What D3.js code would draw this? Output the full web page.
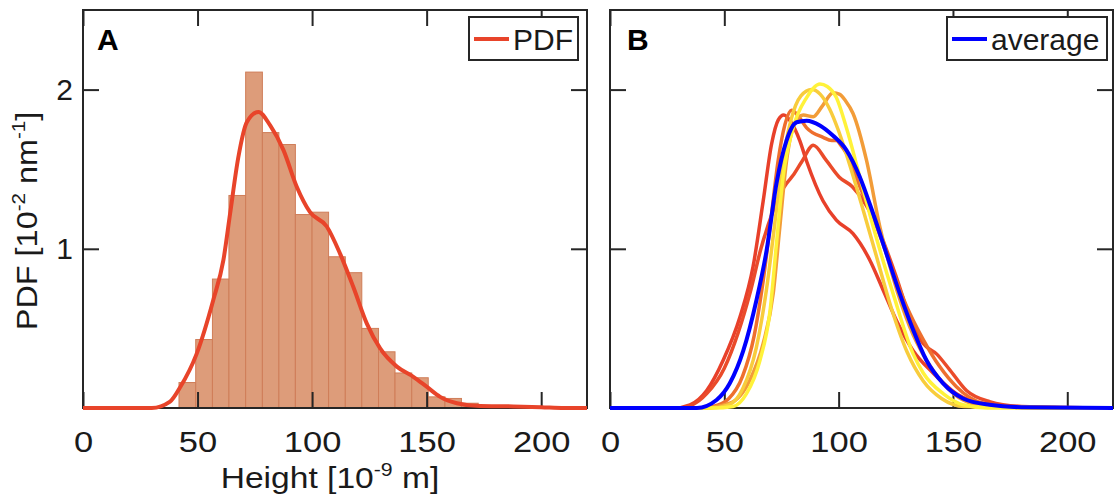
<!DOCTYPE html>
<html>
<head>
<meta charset="utf-8">
<script src="https://cdn.jsdelivr.net/npm/d3@7"></script>
<style>
body { margin: 0; background: #fff; }
</style>
</head>
<body>
<div id="chart"></div>
<script>
var W = 1116, H = 496;
var font = "'Liberation Sans', Arial, Helvetica, sans-serif";
var axisColor = "#262626";

var xTicks = [0, 50, 100, 150, 200];
var yTicks = [1, 2];

// panel A: histogram of heights (bin edges in nm, PDF in 1e-2 nm^-1)
var binEdges = [41.9, 49.2, 56.5, 63.7, 71.0, 78.3, 85.5, 92.7, 100.0, 107.2, 114.5, 121.7, 129.0, 136.2, 143.5, 150.7, 158.0, 165.2, 172.5];
var binHeights = [0.16, 0.43, 0.81, 1.335, 2.11, 1.73, 1.655, 1.215, 1.23, 0.95, 0.85, 0.50, 0.353, 0.22, 0.19, 0.07, 0.06, 0.03];

var pdfA = [[0, 0], [30, 0], [38, 0.04], [42.4, 0.13], [49.6, 0.34], [56.9, 0.68], [61.3, 0.93], [64.2, 1.22],
	[67.8, 1.575], [71.5, 1.795], [76.6, 1.86], [81.7, 1.775], [87.5, 1.62], [93.3, 1.39], [99.1, 1.23],
	[106.4, 1.14], [112.2, 0.97], [118, 0.76], [123.9, 0.53], [129.7, 0.374], [137, 0.26], [144.2, 0.196],
	[150, 0.134], [155.9, 0.07], [163.2, 0.03], [173.4, 0.012], [187.8, 0.01], [200, 0.005], [210, 0], [220, 0]];

// panel B: individual PDFs
var redA = [[0, 0], [28, 0], [35, 0.02], [42.3, 0.11], [49.5, 0.30], [56.8, 0.57], [62.6, 0.89], [67, 1.30],
	[70.7, 1.66], [73.6, 1.81], [76, 1.84], [79, 1.80], [83, 1.68], [86, 1.55], [93.2, 1.30], [99, 1.18],
	[106.3, 1.095], [113.6, 0.93], [119.5, 0.74], [125.3, 0.55], [132.6, 0.36], [141.3, 0.22], [151.5, 0.09],
	[166, 0.02], [185, 0], [220, 0]];
var redB = [[0, 0], [30, 0], [36, 0.02], [42.3, 0.09], [50, 0.25], [56, 0.47], [61.2, 0.72], [66, 1.0],
	[71.4, 1.24], [75, 1.36], [77.2, 1.41], [80, 1.46], [84, 1.55], [88.9, 1.65], [94.6, 1.555], [100.3, 1.45],
	[106, 1.39], [111.8, 1.28], [117.6, 1.115], [125.3, 0.82], [131.1, 0.57], [137, 0.405], [142.8, 0.34],
	[148.6, 0.24], [155.9, 0.11], [166, 0.04], [180, 0.01], [220, 0]];
var orangeA = [[0, 0], [38, 0], [45, 0.01], [52, 0.06], [58, 0.2], [63, 0.45], [67, 0.8], [70.5, 1.2],
	[73.5, 1.55], [76.5, 1.78], [79.4, 1.87], [82, 1.84], [86, 1.76], [93.2, 1.70], [97, 1.68], [99, 1.68],
	[101, 1.65], [103.4, 1.60], [109.3, 1.39], [116.6, 1.14], [122.4, 0.91], [129.7, 0.64], [137, 0.43],
	[144.2, 0.26], [151.5, 0.134], [163.2, 0.03], [180, 0.005], [220, 0]];
var orangeB = [[0, 0], [40, 0], [52.4, 0.03], [61.2, 0.176], [67, 0.405], [71.4, 0.72], [74.3, 1.14],
	[77.2, 1.55], [80.1, 1.76], [84.5, 1.84], [88.9, 1.83], [93, 1.9], [97.6, 1.98], [100.5, 1.97],
	[103, 1.93], [106.3, 1.85], [112.2, 1.555], [118, 1.14], [123.8, 0.82], [131.1, 0.51], [138.4, 0.30],
	[145.7, 0.155], [154.4, 0.05], [165, 0.01], [220, 0]];
var goldC = [[0, 0], [44, 0], [52, 0.02], [58, 0.12], [64, 0.38], [68.5, 0.75], [72, 1.15], [75, 1.5],
	[79, 1.8], [83.5, 1.96], [88.2, 2.0], [92, 1.97], [96, 1.88], [100, 1.74], [105, 1.52], [110, 1.28],
	[116, 0.98], [123, 0.63], [130, 0.35], [137, 0.17], [145, 0.06], [155, 0.01], [220, 0]];
var yellowD = [[0, 0], [45, 0], [53.9, 0.01], [59.7, 0.09], [65.6, 0.30], [70, 0.61], [72.8, 1.03],
	[75.7, 1.45], [80.1, 1.76], [86, 1.95], [91.8, 2.035], [95, 2.02], [99, 1.95], [103.4, 1.76],
	[109.3, 1.45], [115.1, 1.14], [123.8, 0.72], [132.6, 0.34], [137, 0.22], [145.7, 0.09], [154.4, 0.02],
	[165, 0], [220, 0]];
var average = [[0, 0], [38, 0], [46.6, 0.05], [52.4, 0.155], [58.3, 0.36], [64.1, 0.68], [68.5, 0.99],
	[72.8, 1.41], [77.2, 1.68], [81.6, 1.795], [86, 1.805], [91.8, 1.775], [97.6, 1.71], [103.4, 1.62],
	[109.3, 1.45], [115.1, 1.22], [120.9, 0.97], [126.7, 0.72], [132.6, 0.49], [138.4, 0.30], [145.7, 0.155],
	[154.4, 0.06], [166, 0.02], [180, 0.005], [220, 0]];

var curvesB = [redA, redB, orangeA, orangeB, goldC, yellowD];
var curveColors = ["#e8402a", "#ea4b2a", "#ee6f2e", "#f29c38", "#f8cc3c", "#fff23a"];

var plotTop = 10, plotBottom = 408;
var y = d3.scaleLinear().domain([0, 2.5]).range([plotBottom, plotTop]);
var xA = d3.scaleLinear().domain([0, 220]).range([83, 587]);
var xB = d3.scaleLinear().domain([0, 220]).range([610, 1113]);

var svg = d3.select("#chart").append("svg")
	.attr("width", W)
	.attr("height", H)
	.style("font-family", font);

var line = (x) => d3.line()
	.x(d => x(d[0]))
	.y(d => y(d[1]))
	.curve(d3.curveMonotoneX);

function drawFrame(x, id) {
	var g = svg.append("g");
	var left = x.range()[0], right = x.range()[1];
	var tick = 16;

	g.append("g").attr("transform", "translate(0," + plotBottom + ")")
		.call(d3.axisBottom(x).tickValues(xTicks).tickSizeInner(-tick).tickSizeOuter(0).tickPadding(23))
		.call(a => a.select(".domain").remove())
		.call(a => a.selectAll("text").attr("transform", "scale(1.15,1)"));
	g.append("g").attr("transform", "translate(0," + plotTop + ")")
		.call(d3.axisTop(x).tickValues(xTicks).tickSizeInner(-tick).tickSizeOuter(0).tickFormat(""))
		.call(a => a.select(".domain").remove());
	g.append("g").attr("transform", "translate(" + left + ",0)")
		.call(d3.axisLeft(y).tickValues(yTicks).tickSizeInner(-tick).tickSizeOuter(0).tickFormat(id === "A" ? d3.format("d") : ""))
		.call(a => a.select(".domain").remove())
		.call(a => a.selectAll("text").attr("x", -10).attr("text-anchor", "end"));
	g.append("g").attr("transform", "translate(" + right + ",0)")
		.call(d3.axisRight(y).tickValues(yTicks).tickSizeInner(-tick).tickSizeOuter(0).tickFormat(""))
		.call(a => a.select(".domain").remove());

	g.selectAll(".tick line").attr("stroke", axisColor).attr("stroke-width", 2);
	g.selectAll(".tick text")
		.attr("fill", "#1a1a1a")
		.style("font-size", "30px")
		.style("font-family", font);

	g.append("rect")
		.attr("x", left).attr("y", plotTop)
		.attr("width", right - left).attr("height", plotBottom - plotTop)
		.attr("fill", "none")
		.attr("stroke", axisColor)
		.attr("stroke-width", 2);

	svg.append("clipPath").attr("id", "clip" + id)
		.append("rect")
		.attr("x", left).attr("y", plotTop)
		.attr("width", right - left).attr("height", plotBottom - plotTop + 3);
}

function drawLegend(x0, x1, label, color) {
	var g = svg.append("g");
	g.append("rect")
		.attr("x", x0).attr("y", 17)
		.attr("width", x1 - x0).attr("height", 43)
		.attr("fill", "#fff")
		.attr("stroke", axisColor)
		.attr("stroke-width", 2);
	g.append("line")
		.attr("x1", x0 + 5).attr("x2", x0 + 40)
		.attr("y1", 39).attr("y2", 39)
		.attr("stroke", color)
		.attr("stroke-width", 4);
	g.append("text")
		.attr("x", x0 + 44).attr("y", 50)
		.style("font-size", "30px")
		.attr("fill", "#1a1a1a")
		.text(label);
}

// ---- panel A ----
svg.append("g").selectAll("rect")
	.data(binHeights)
	.enter()
	.append("rect")
	.attr("x", (d, i) => xA(binEdges[i]))
	.attr("width", (d, i) => xA(binEdges[i + 1]) - xA(binEdges[i]))
	.attr("y", d => y(d))
	.attr("height", d => y(0) - y(d))
	.attr("fill", "#dd9c7a")
	.attr("stroke", "#cf7d58")
	.attr("stroke-width", 1);

drawFrame(xA, "A");

svg.append("path")
	.datum(pdfA)
	.attr("clip-path", "url(#clipA)")
	.attr("d", line(xA))
	.attr("fill", "none")
	.attr("stroke", "#e8442a")
	.attr("stroke-width", 4);

// ---- panel B ----
drawFrame(xB, "B");

var gB = svg.append("g").attr("clip-path", "url(#clipB)");
gB.selectAll("path.pdf")
	.data(curvesB)
	.enter()
	.append("path")
	.attr("class", "pdf")
	.attr("d", line(xB))
	.attr("fill", "none")
	.attr("stroke", (d, i) => curveColors[i])
	.attr("stroke-width", 3.5);
gB.append("path")
	.datum(average)
	.attr("d", line(xB))
	.attr("fill", "none")
	.attr("stroke", "#0000ff")
	.attr("stroke-width", 4);

// panel letters
svg.append("text").attr("x", 97).attr("y", 50)
	.style("font-size", "30px").style("font-weight", "bold").text("A");
svg.append("text").attr("x", 627).attr("y", 50)
	.style("font-size", "30px").style("font-weight", "bold").text("B");

drawLegend(469, 578, "PDF", "#e8442a");
drawLegend(947, 1107, "average", "#0000ff");

// axis labels
var xl = svg.append("text")
	.attr("transform", "translate(330,488) scale(1.12,1)")
	.attr("text-anchor", "middle")
	.style("font-size", "30px")
	.attr("fill", "#1a1a1a");
xl.append("tspan").text("Height [10");
xl.append("tspan").attr("dy", -12).style("font-size", "19px").text("-9");
xl.append("tspan").attr("dy", 12).text(" m]");

var yl = svg.append("text")
	.attr("transform", "translate(37,221) rotate(-90) scale(1.08,1)")
	.attr("text-anchor", "middle")
	.style("font-size", "30px")
	.attr("fill", "#1a1a1a");
yl.append("tspan").text("PDF [10");
yl.append("tspan").attr("dy", -12).style("font-size", "19px").text("-2");
yl.append("tspan").attr("dy", 12).text(" nm");
yl.append("tspan").attr("dy", -12).style("font-size", "19px").text("-1");
yl.append("tspan").attr("dy", 12).text("]");
</script>
</body>
</html>
